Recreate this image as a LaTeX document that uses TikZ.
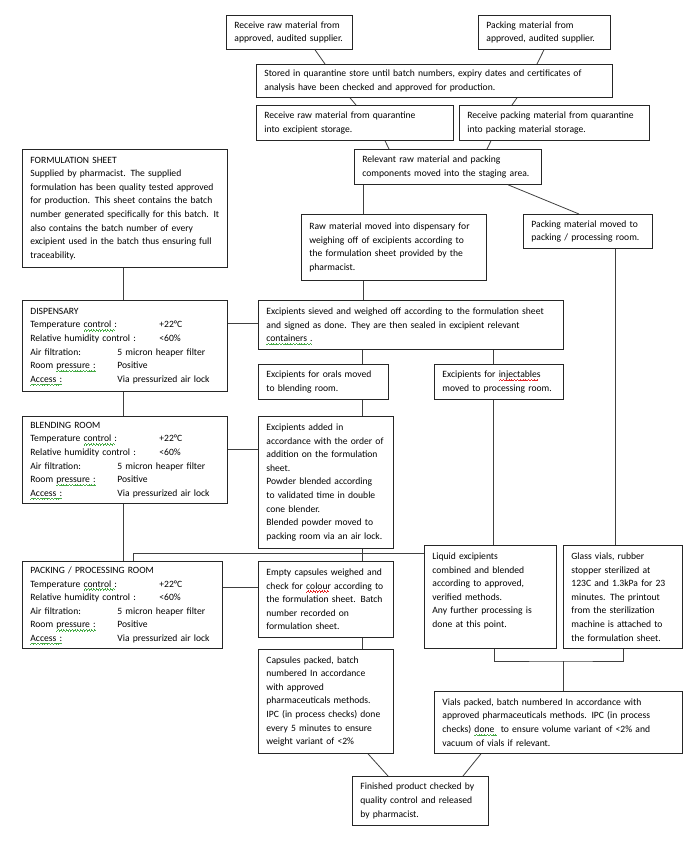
\documentclass[tikz,border=0pt]{standalone}
\usepackage{fontspec}
\usepackage{xcolor}
\usepackage{tikz}
\setmainfont{Carlito}

\definecolor{sqgreen}{RGB}{70,170,70}
\definecolor{sqred}{RGB}{225,40,40}
\newcommand{\boxfont}{\fontsize{9.6}{13.6}\selectfont}
\newcommand{\wavebit}{\rule[0pt]{0.7pt}{0.7pt}\rule[0.7pt]{0.7pt}{0.7pt}\rule[1.4pt]{0.7pt}{0.7pt}\rule[0.7pt]{0.7pt}{0.7pt}}
\newcommand{\squig}[2]{\leavevmode\setbox0\hbox{#2}\rlap{\raisebox{-3.4pt}[0pt][0pt]{\textcolor{#1}{\hbox to \wd0{\leaders\hbox{\wavebit}\hfill}}}}\box0\relax}
\newcommand{\greensq}[1]{\squig{sqgreen}{#1}}
\newcommand{\redsq}[1]{\squig{sqred}{#1}}
\newcommand{\roomdata}[1]{#1\\
  \makebox[129pt][l]{Temperature \greensq{control :}}+22°C\\
  \makebox[129pt][l]{Relative humidity control :}<60\%\\
  \makebox[87pt][l]{Air filtration:}5 micron heaper filter\\
  \makebox[87pt][l]{Room \greensq{pressure :}}Positive\\
  \makebox[87pt][l]{\greensq{Access :}}Via pressurized air lock}

\begin{document}
\begin{tikzpicture}[
    x=1pt, y=-1pt,
    stepbox/.style={rectangle, draw=black!85, line width=0.8pt, anchor=north west, inner xsep=8pt, inner ysep=0pt, align=left, font=\boxfont},
    link/.style={draw=black!75, line width=0.8pt}
]
    \path[fill=white, use as bounding box] (0,0) rectangle (700,842);

    % supply and quarantine
    \node (rawsup) [stepbox, text width=110pt, minimum height=34pt] at (226,15) {Receive raw material from\\approved, audited supplier.};
    \node (packsup) [stepbox, text width=116pt, minimum height=34pt] at (478,15) {Packing material from\\approved, audited supplier.};
    \node (quar) [stepbox, text width=340pt, minimum height=33pt] at (256,64) {Stored in quarantine store until batch numbers, expiry dates and certificates of\\analysis have been checked and approved for production.};
    \node (rawq) [stepbox, text width=181pt, minimum height=35pt] at (256,105) {Receive raw material from quarantine\\into excipient storage.};
    \node (packq) [stepbox, text width=174pt, minimum height=35pt] at (459,105) {Receive packing material from quarantine\\into packing material storage.};
    \node (staging) [stepbox, text width=171pt, minimum height=35pt] at (354,149) {Relevant raw material and packing\\components moved into the staging area.};

    % formulation sheet and rooms
    \node (formsheet) [stepbox, text width=189pt, minimum height=118pt] at (22,149) {FORMULATION SHEET\\Supplied by pharmacist. The supplied\\formulation has been quality tested approved\\for production. This sheet contains the batch\\number generated specifically for this batch. It\\also contains the batch number of every\\excipient used in the batch thus ensuring full\\traceability.};
    \node (disp) [stepbox, text width=189pt, minimum height=91pt] at (22,300) {\roomdata{DISPENSARY}};
    \node (blendroom) [stepbox, text width=189pt, minimum height=87pt] at (22,416) {\roomdata{BLENDING ROOM}};
    \node (packroom) [stepbox, text width=184pt, minimum height=87pt] at (22,561) {\roomdata{PACKING / PROCESSING ROOM}};

    % dispensing
    \node (rawdisp) [stepbox, text width=169pt, minimum height=66pt] at (301,214) {Raw material moved into dispensary for\\weighing off of excipients according to\\the formulation sheet provided by the\\pharmacist.};
    \node (packmove) [stepbox, text width=113pt, minimum height=34pt] at (523,214) {Packing material moved to\\packing / processing room.};
    \node (sieve) [stepbox, text width=289pt, minimum height=49pt] at (258,300) {Excipients sieved and weighed off according to the formulation sheet\\and signed as done. They are then sealed in excipient relevant\\\greensq{containers .}};
    \node (orals) [stepbox, text width=114pt, minimum height=35pt] at (258,364) {Excipients for orals moved\\to blending room.};
    \node (inject) [stepbox, text width=113pt, minimum height=35pt] at (434,364) {Excipients for \redsq{injectables}\\moved to processing room.};
    \node (added) [stepbox, text width=119pt, minimum height=132pt] at (258,416) {Excipients added in\\accordance with the order of\\addition on the formulation\\sheet.\\Powder blended according\\to validated time in double\\cone blender.\\Blended powder moved to\\packing room via an air lock.};

    % processing and packing
    \node (capsules) [stepbox, text width=119pt, minimum height=76pt] at (258,561) {Empty capsules weighed and\\check for \redsq{colour} according to\\the formulation sheet. Batch\\number recorded on\\formulation sheet.};
    \node (liquid) [stepbox, text width=116pt, minimum height=103pt] at (424,545) {Liquid excipients\\combined and blended\\according to approved,\\verified methods.\\Any further processing is\\done at this point.\\~};
    \node (glass) [stepbox, text width=103pt, minimum height=103pt] at (563,545) {Glass vials, rubber\\stopper sterilized at\\123C and 1.3kPa for 23\\minutes. The printout\\from the sterilization\\machine is attached to\\the formulation sheet.};
    \node (capspack) [stepbox, text width=119pt, minimum height=104pt] at (258,649) {Capsules packed, batch\\numbered In accordance\\with approved\\pharmaceuticals methods.\\IPC (in process checks) done\\every 5 minutes to ensure\\weight variant of <2\%};
    \node (vialpack) [stepbox, text width=232pt, minimum height=62pt] at (434,691) {Vials packed, batch numbered In accordance with\\approved pharmaceuticals methods. IPC (in process\\checks) \greensq{done\ }\ to ensure volume variant of <2\% and\\vacuum of vials if relevant.};
    \node (finished) [stepbox, text width=120pt, minimum height=49pt] at (352,776) {Finished product checked by\\quality control and released\\by pharmacist.};

    \coordinate (vialjoin) at (563,661);

    % connectors
    \draw [link] (rawsup.south -| 315,0) -- (quar.north -| 325,0);
    \draw [link] (packsup.south -| 544,0) -- (quar.north -| 537,0);
    \draw [link] (quar.south -| 350,0) -- (rawq.north -| 356,0);
    \draw [link] (quar.south -| 517,0) -- (packq.north -| 512,0);
    \draw [link] (rawq.south -| 385,0) -- (staging.north -| 389,0);
    \draw [link] (packq.south -| 491,0) -- (staging.north -| 487,0);
    \draw [link] (staging.south -| 363,0) -- (rawdisp.north -| 363,0);
    \draw [link] (staging.south -| 508,0) -- (packmove.north -| 579,0);
    \draw [link] (formsheet.south -| 123,0) -- (disp.north -| 123,0);
    \draw [link] (rawdisp.south -| 363,0) -- (sieve.north -| 363,0);
    \draw [link] (packmove.south -| 615,0) -- (glass.north -| 615,0);
    \draw [link] (disp.east |- 0,323) -- (sieve.west |- 0,323);
    \draw [link] (sieve.south -| 362,0) -- (orals.north -| 362,0);
    \draw [link] (sieve.south -| 493,0) -- (inject.north -| 493,0);
    \draw [link] (orals.south -| 362,0) -- (added.north -| 362,0);
    \draw [link] (disp.south -| 123,0) -- (blendroom.north -| 123,0);
    \draw [link] (blendroom.east |- 0,449) -- (added.west |- 0,449);
    \draw [link] (blendroom.south -| 123,0) -- (packroom.north -| 123,0);
    \draw [link] (inject.south -| 493,0) -- (liquid.north -| 493,0);
    \draw [link] (added.south -| 362,0) -- (capsules.north -| 362,0);
    \draw [link] (packroom.north -| 133,0) |- (liquid.west |- 0,553);
    \draw [link] (packroom.east |- 0,587) -- (capsules.west |- 0,587);
    \draw [link] (capsules.south -| 362,0) -- (capspack.north -| 362,0);
    \draw [link] (liquid.south -| 494,0) |- (vialjoin) -| (glass.south -| 623,0);
    \draw [link] (vialjoin) -- (vialpack.north -| vialjoin);
    \draw [link] (capspack.south -| 368,0) -- (finished.north -| 388,0);
    \draw [link] (vialpack.south -| 481,0) -- (finished.north -| 463,0);
\end{tikzpicture}
\end{document}
